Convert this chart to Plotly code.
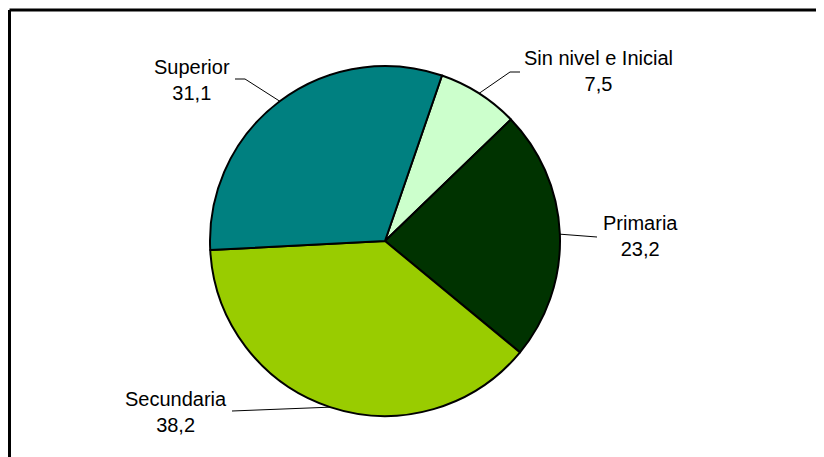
import math
import plotly.graph_objects as go

# ---- data ----
categories = ["Sin nivel e Inicial", "Primaria", "Secundaria", "Superior"]
values = [7.5, 23.2, 38.2, 31.1]
value_labels = ["7,5", "23,2", "38,2", "31,1"]

# ---- style / layout ----
colors = ["#CCFFCC", "#003300", "#99CC00", "#008080"]
PAGE_W, PAGE_H = 824, 457
OFF = 8                            # default body margin of the page
W, H = PAGE_W - OFF, PAGE_H - OFF  # figure size
CX, CY, R = 385, 241, 175          # pie centre / radius in page pixels
ROTATION = 19                      # start angle, clockwise from 12 o'clock
FONT = "Liberation Sans, Arial, sans-serif"
FSIZE = 20
# per-label placement (page pixels): elbow point, line end point, text centre
label_layout = [
    dict(elbow=(510, 72), end=(520, 72), text=(598, 71)),
    dict(elbow=None, end=(597, 237), text=(640, 236)),
    dict(elbow=None, end=(232, 411), text=(176, 412)),
    dict(elbow=(245, 79), end=(235, 79), text=(192, 80)),
]


def px(x):
    return (x - OFF) / W


def py(y):
    return 1 - (y - OFF) / H


fig = go.Figure()
fig.add_trace(go.Pie(
    labels=categories,
    values=values,
    sort=False,
    direction="clockwise",
    rotation=ROTATION,
    marker=dict(colors=colors, line=dict(color="black", width=2)),
    textinfo="none",
    hoverinfo="label+value",
    showlegend=False,
    domain=dict(x=[px(CX - R), px(CX + R)], y=[py(CY + R), py(CY - R)]),
))

total = sum(values)
shapes = []
annotations = []
cum = 0.0
for cat, v, vl, lay in zip(categories, values, value_labels, label_layout):
    mid = math.radians(ROTATION + (cum + v / 2) / total * 360)
    cum += v
    ex, ey = CX + R * math.sin(mid), CY - R * math.cos(mid)
    pts = [(ex, ey)]
    if lay["elbow"]:
        pts.append(lay["elbow"])
    pts.append(lay["end"])
    path = "M " + " L ".join(f"{px(x)},{py(y)}" for x, y in pts)
    shapes.append(dict(type="path", xref="paper", yref="paper", path=path,
                       line=dict(color="black", width=1)))
    tx, ty = lay["text"]
    annotations.append(dict(
        x=px(tx), y=py(ty), xref="paper", yref="paper",
        text=f"{cat}<br>{vl}", showarrow=False, align="center",
        xanchor="center", yanchor="middle",
        font=dict(family=FONT, size=FSIZE, color="black"),
    ))

# chart frame (top and left edges visible)
shapes.append(dict(type="line", xref="paper", yref="paper",
                   x0=px(9.5), y0=py(10), x1=1.02, y1=py(10),
                   line=dict(color="black", width=3)))
shapes.append(dict(type="line", xref="paper", yref="paper",
                   x0=px(9.5), y0=py(10), x1=px(9.5), y1=-0.02,
                   line=dict(color="black", width=3)))

fig.update_layout(
    width=W, height=H,
    margin=dict(l=0, r=0, t=0, b=0),
    paper_bgcolor="white", plot_bgcolor="white",
    shapes=shapes, annotations=annotations,
    font=dict(family=FONT, size=FSIZE, color="black"),
)

fig.write_html("out.html")
